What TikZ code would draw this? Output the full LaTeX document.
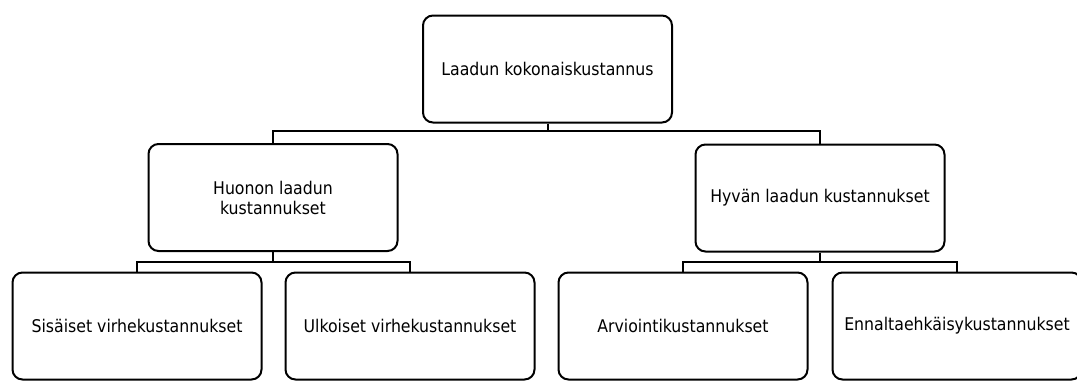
\documentclass[tikz,border=0pt]{standalone}
\usepackage{fontspec}
\setmainfont{DejaVu Sans Condensed}
\begin{document}
\begin{tikzpicture}[x=1pt,y=-1pt,
  box/.style={draw=black, line width=2pt, rounded corners=10pt,
    minimum width=249pt, minimum height=107pt, align=center,
    inner sep=0pt, font=\fontsize{17.5}{20}\selectfont, text=black},
  conn/.style={draw=black, line width=2pt}]
\useasboundingbox (0,0) rectangle (1077,381);
\fill[white] (0,0) rectangle (1077,381);
\node[box] (top) at (547.5,69) {Laadun kokonaiskustannus};
\node[box] (huonon) at (273,197.5) {Huonon laadun\\kustannukset};
\node[box] (hyvan) at (820,198) {Hyvän laadun kustannukset};
\node[box] (s1) at (137,326) {Sisäiset virhekustannukset};
\node[box] (s2) at (410,326) {Ulkoiset virhekustannukset};
\node[box] (s3) at (683,326) {Arviointikustannukset};
\node[box] (s4) at (957,326) {Ennaltaehkäisykustannukset};
\coordinate (j1) at (0,131);
\coordinate (j2) at (0,262);
\draw[conn] (top.south) -- (top.south |- j1);
\draw[conn] (huonon.north) -- (huonon.north |- j1) -- (hyvan.north |- j1) -- (hyvan.north);
\draw[conn] (huonon.south) -- (huonon.south |- j2);
\draw[conn] (s1.north) -- (s1.north |- j2) -- (s2.north |- j2) -- (s2.north);
\draw[conn] (hyvan.south) -- (hyvan.south |- j2);
\draw[conn] (s3.north) -- (s3.north |- j2) -- (s4.north |- j2) -- (s4.north);
\end{tikzpicture}
\end{document}
